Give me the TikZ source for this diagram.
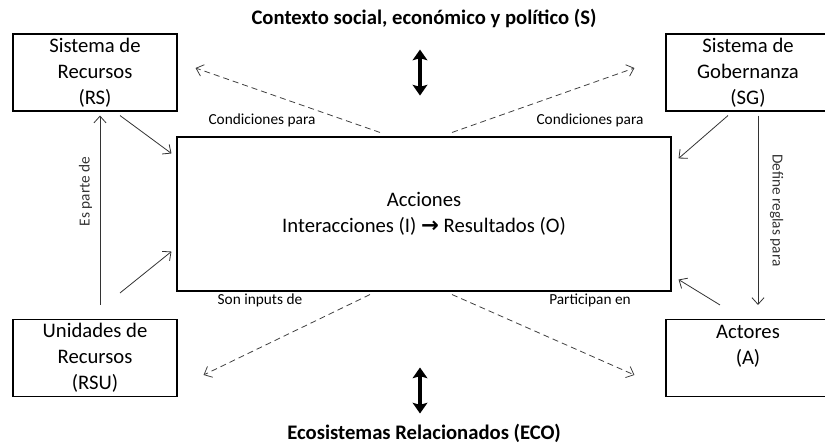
\documentclass[tikz,border=0pt]{standalone}
\usepackage{fontspec}
\setmainfont{Carlito}
\newfontfamily\flechafont{DejaVu Sans}
\usetikzlibrary{arrows.meta,calc}

\tikzset{
    caja/.style={draw,line width=0.8pt,align=center,minimum width=123pt,minimum height=57.75pt,inner sep=0pt,font=\fontsize{15.5}{19.5}\selectfont},
    flecha/.style={draw,black!80,line width=0.6pt,-{Straight Barb[length=5pt,width=9pt]}},
    discont/.style={draw,black!75,line width=0.6pt,dash pattern=on 4.5pt off 3pt,-{Straight Barb[length=5pt,width=9pt]}},
    doble/.style={line width=3pt,{Stealth[length=8pt,width=11pt,inset=1.5pt]}-{Stealth[length=8pt,width=11pt,inset=1.5pt]}},
    etiq/.style={inner sep=0pt,font=\fontsize{11.5}{13}\selectfont},
    titulo/.style={inner sep=0pt,font=\fontsize{15.5}{18}\selectfont\bfseries}
}

\begin{document}
\begin{tikzpicture}[x=0.75pt,y=-0.75pt]
    \useasboundingbox (0,0) rectangle (825,445);

    %Titulos
    \node[titulo] (ctx) at (424,18) {Contexto social, económico y político (S)};
    \node[titulo] (eco) at (424,433) {Ecosistemas Relacionados (ECO)};

    %Cajas
    \node[caja] (rs) at (95,72.5) {Sistema de\\Recursos\\(RS)};
    \node[caja] (sg) at (748,72.5) {Sistema de\\Gobernanza\\(SG)};
    \node[caja] (rsu) at (95,358) {Unidades de\\Recursos\\(RSU)};
    \node[caja] (act) at (748,358) {Actores\\(A)\\\mbox{}};
    \node[caja,minimum width=370.5pt,minimum height=115.5pt] (acc) at (424,214)
        {Acciones\\Interacciones (I) {\flechafont\bfseries\fontsize{16}{16}\selectfont →} Resultados (O)};

    %Flechas dobles
    \draw[doble] ($(ctx.south)+(-4,22)$) -- ($(ctx.south)+(-4,68)$);
    \draw[doble] ($(eco.north)+(-4,-56)$) -- ($(eco.north)+(-4,-10)$);

    %Flechas continuas
    \draw[flecha] ($(rs.south)+(25,4)$) -- ($(acc.north west)+(-5,17)$);
    \draw[flecha] ($(rsu.north)+(25,-26)$) -- ($(acc.south west)+(-5,-40)$);
    \draw[flecha] ($(sg.south)+(-20,4)$) -- ($(acc.north east)+(7,22)$);
    \draw[flecha] ($(act.north)+(-28,-14)$) -- ($(acc.south east)+(7,-12)$);
    \draw[flecha] ($(rsu.north)+(5,-14)$) -- node[etiq,rotate=90,anchor=south,outer sep=6pt,pos=0.6] (esp) {Es parte de} ($(rs.south)+(5,4)$);
    \draw[flecha] ($(sg.south)+(10,4)$) -- node[etiq,rotate=-90,anchor=south,outer sep=9pt,pos=0.5] (def) {Define reglas para} ($(act.north)+(10,-14)$);

    %Flechas discontinuas
    \draw[discont] ($(acc.north)+(-44,-4)$) -- ($(rs.east)+(18,-4.5)$);
    \draw[discont] ($(acc.north)+(28,-4)$) -- ($(sg.west)+(-31,-4.5)$);
    \draw[discont] ($(acc.south)+(-54,3)$) -- ($(rsu.east)+(26,17)$);
    \draw[discont] ($(acc.south)+(28,3)$) -- ($(act.west)+(-31,17)$);

    %Etiquetas
    \node[etiq] (c1) at (262,120) {Condiciones para};
    \node[etiq] (c2) at (590,120) {Condiciones para};
    \node[etiq] (son) at (260,300) {Son inputs de};
    \node[etiq] (par) at (590,300) {Participan en};
\end{tikzpicture}
\end{document}
